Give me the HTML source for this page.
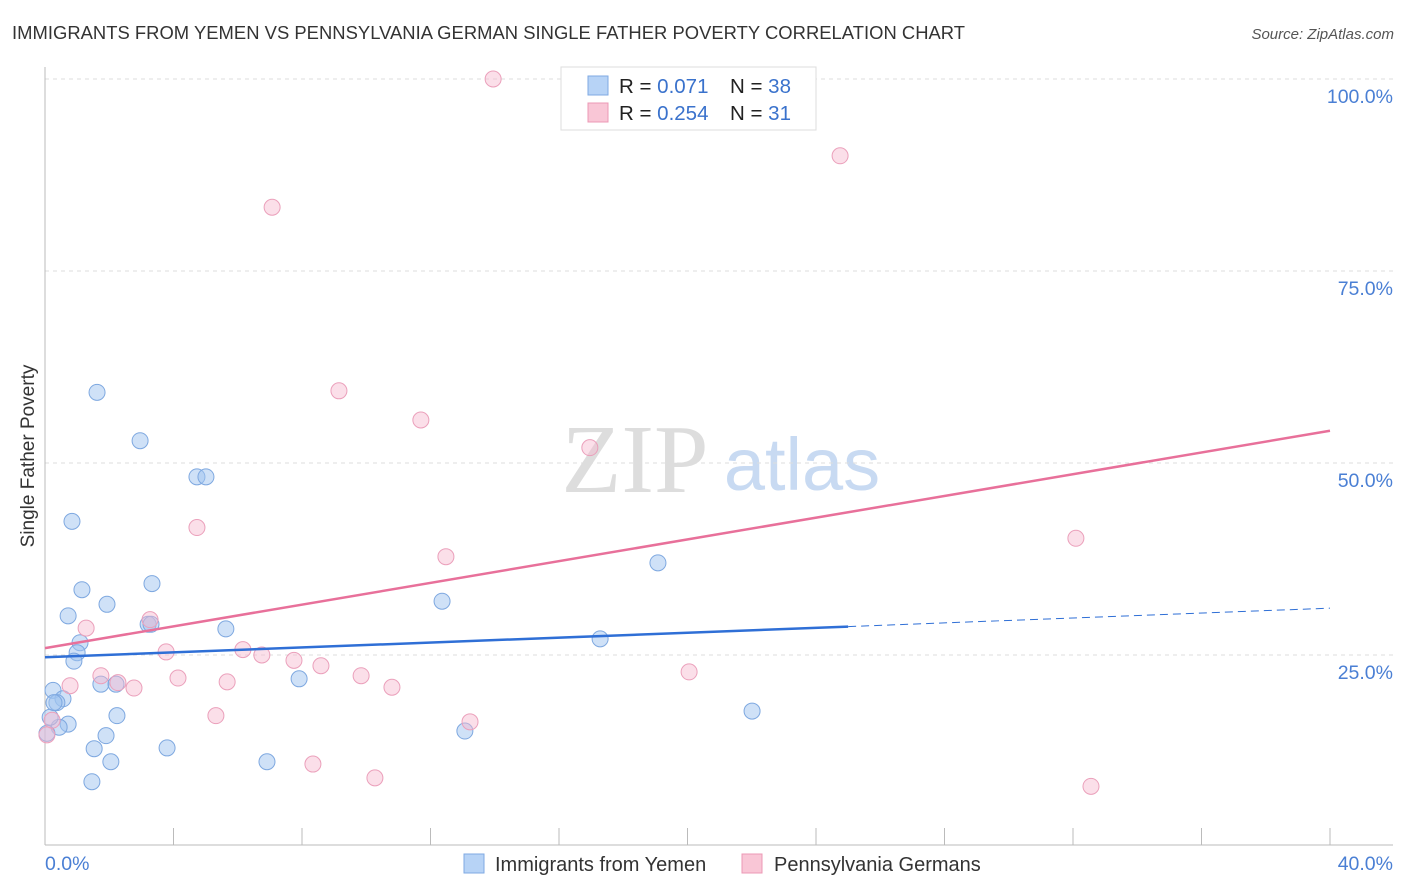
<!DOCTYPE html>
<html><head><meta charset="utf-8"><style>
body{margin:0;background:#fff;font-family:"Liberation Sans",sans-serif;}
svg{display:block}
</style></head><body>
<svg id="chart" width="1406" height="892">
<text x="12" y="39" font-size="18.4" fill="#333" textLength="953">IMMIGRANTS FROM YEMEN VS PENNSYLVANIA GERMAN SINGLE FATHER POVERTY CORRELATION CHART</text>
<text x="1394" y="39" font-size="15" fill="#555" font-style="italic" text-anchor="end">Source: ZipAtlas.com</text>
<text transform="translate(34,456) rotate(-90)" font-size="19" fill="#333" text-anchor="middle">Single Father Poverty</text>
<g><text x="635" y="492" font-size="98" font-family="Liberation Serif,serif" fill="#ddd" text-anchor="middle">ZIP</text><text x="802" y="490" font-size="74" fill="#c8daf2" text-anchor="middle">atlas</text></g>
<g id="grid"></g><g id="axes"></g><g id="marks"></g>
<g>
<rect x="561" y="67" width="255" height="63" fill="#fff" stroke="#ddd"/>
<rect x="588" y="76" width="20" height="19" fill="#b7d3f6" stroke="#7fa9e3"/>
<rect x="588" y="103" width="20" height="19" fill="#f9c6d6" stroke="#ec98b5"/>
<text x="619" y="93" font-size="20.5" fill="#222">R = <tspan fill="#3a72cc">0.071</tspan></text>
<text x="730" y="93" font-size="20.5" fill="#222">N = <tspan fill="#3a72cc">38</tspan></text>
<text x="619" y="120" font-size="20.5" fill="#222">R = <tspan fill="#3a72cc">0.254</tspan></text>
<text x="730" y="120" font-size="20.5" fill="#222">N = <tspan fill="#3a72cc"> 31</tspan></text>
</g>
<g>
<rect x="464" y="854" width="20" height="19" fill="#b7d3f6" stroke="#7fa9e3"/>
<text x="495" y="871" font-size="20" fill="#333">Immigrants from Yemen</text>
<rect x="742" y="854" width="20" height="19" fill="#f9c6d6" stroke="#ec98b5"/>
<text x="774" y="871" font-size="20" fill="#333">Pennsylvania Germans</text>
</g>
</svg>
<script>
const yTicks=[25,50,75,100];
const yTickLabels=["25.0%","50.0%","75.0%","100.0%"];
const xEndLabels=["0.0%","40.0%"];
const blueX=[1.62,2.96,4.73,5.01,0.84,3.33,1.15,0.72,1.93,3.21,3.30,5.63,1.09,1.00,0.90,0.25,1.74,2.21,0.56,0.37,2.24,0.72,0.44,0.16,1.90,1.53,3.80,2.05,1.46,6.91,7.91,12.36,19.08,17.28,22.01,13.07,0.06,0.28];
const blueY=[59.2,52.9,48.2,48.2,42.4,34.3,33.5,30.1,31.6,29.0,29.0,28.4,26.6,25.3,24.2,20.4,21.2,21.2,19.3,18.8,17.1,16.0,15.6,16.9,14.5,12.8,12.9,11.1,8.5,11.1,21.9,32.0,37.0,27.1,17.7,15.1,14.8,18.8];
const pinkX=[13.95,24.75,7.07,9.15,11.70,16.96,4.73,12.48,32.09,3.27,1.28,3.77,6.16,6.75,7.75,8.59,1.74,2.27,2.77,4.14,5.67,9.84,10.80,0.78,5.32,13.23,20.05,8.34,10.27,32.56,0.22,0.06];
const pinkY=[100,90.0,83.3,59.4,55.6,52.0,41.6,37.8,40.2,29.6,28.5,25.4,25.7,25.0,24.3,23.6,22.3,21.4,20.7,22.0,21.5,22.3,20.8,21.0,17.1,16.3,22.8,10.8,9.0,7.9,16.5,14.6];
const blueTrend=[24.7,31.1];
const pinkTrend=[25.9,54.2];
const NS="http://www.w3.org/2000/svg";
const X=v=>45+v*32.125, Y=v=>847-v*7.68;
function mk(tag,attrs,parent){const e=document.createElementNS(NS,tag);for(const k in attrs)e.setAttribute(k,attrs[k]);document.getElementById(parent).appendChild(e);return e;}
yTicks.forEach((t,i)=>{
  const g=mk('line',{x1:45,x2:1393,y1:Y(t),y2:Y(t),stroke:'#ddd','stroke-dasharray':'4,4'},'grid');
  
  
  const l=mk('text',{x:1393,y:Y(t)+24,'font-size':19.5,fill:'#4a7fd4','text-anchor':'end'},'axes');
  l.textContent=yTickLabels[i];
  
  
});
let a=mk('line',{x1:45,x2:45,y1:67,y2:845,stroke:'#bbb'},'axes');


a=mk('line',{x1:45,x2:1393,y1:845,y2:845,stroke:'#bbb'},'axes');


for(let i=0;i<=10;i++){
  const t=mk('line',{x1:X(i*4),x2:X(i*4),y1:828,y2:845,stroke:'#bbb'},'axes');
  
  
}
let l=mk('text',{x:45,y:870,'font-size':19.5,fill:'#4a7fd4'},'axes');l.textContent=xEndLabels[0];


l=mk('text',{x:1393,y:870,'font-size':19.5,fill:'#4a7fd4','text-anchor':'end'},'axes');l.textContent=xEndLabels[1];


blueX.forEach((x,i)=>{
  const c=mk('circle',{cx:X(x),cy:Y(blueY[i]),r:8,fill:'rgba(160,196,240,0.5)',stroke:'#7ea8e0','stroke-width':1},'marks');
  
  
});
pinkX.forEach((x,i)=>{
  const c=mk('circle',{cx:X(x),cy:Y(pinkY[i]),r:8,fill:'rgba(246,184,206,0.45)',stroke:'#eba0bb','stroke-width':1},'marks');
  
  
});
const bAt=x=>blueTrend[0]+(blueTrend[1]-blueTrend[0])*x/40;
let t=mk('line',{x1:X(0),y1:Y(bAt(0)),x2:X(25),y2:Y(bAt(25)),stroke:'#2f6fd6','stroke-width':2.5},'marks');


t=mk('line',{x1:X(25),y1:Y(bAt(25)),x2:X(40),y2:Y(bAt(40)),stroke:'#2f6fd6','stroke-width':1,'stroke-dasharray':'8,5'},'marks');


t=mk('line',{x1:X(0),y1:Y(pinkTrend[0]),x2:X(40),y2:Y(pinkTrend[1]),stroke:'#e8709a','stroke-width':2.5},'marks');


</script>
</body></html>
